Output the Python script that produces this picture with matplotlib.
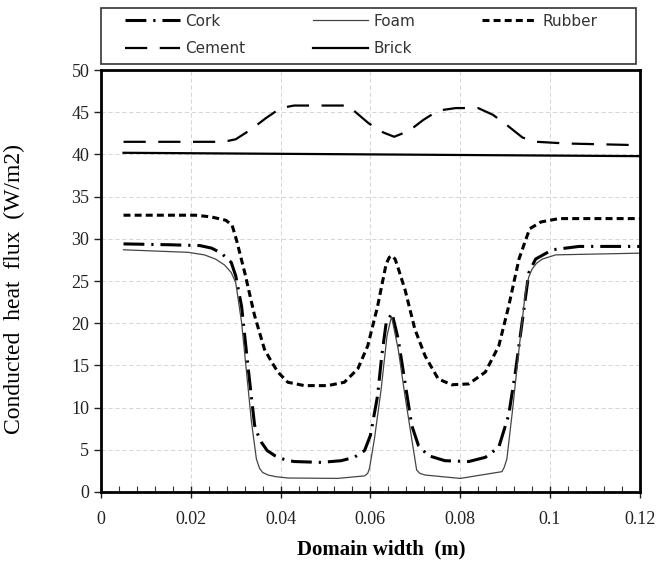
import numpy as np
import matplotlib
matplotlib.use("Agg")
import matplotlib.pyplot as plt
from matplotlib.patches import Rectangle
from matplotlib.ticker import MultipleLocator, FuncFormatter

# ---------- heat flux along the domain width (W/m2) ----------
cork_x = [0.005, 0.015, 0.022, 0.0246, 0.0268, 0.029, 0.030, 0.0313, 0.0327,
          0.0342, 0.035, 0.0357, 0.037, 0.0387, 0.041, 0.043, 0.049, 0.0535,
          0.0564, 0.0587, 0.060, 0.0616, 0.0625, 0.0635, 0.0648, 0.0662,
          0.0677, 0.0692, 0.0707, 0.0729, 0.0766, 0.0819, 0.0856, 0.0886,
          0.0908, 0.0923, 0.0938, 0.0953, 0.0968, 0.1005, 0.1065, 0.12]
cork_y = [29.4, 29.3, 29.2, 28.9, 28.3, 27.2, 25.6, 22.0, 15.0,
          7.9, 6.7, 5.9, 4.9, 4.3, 3.8, 3.6, 3.5, 3.7,
          4.1, 4.9, 6.7, 11.4, 16.0, 20.0, 21.2, 18.1,
          13.0, 7.9, 5.5, 4.3, 3.7, 3.6, 4.1, 5.3,
          9.1, 14.2, 20.1, 26.0, 27.6, 28.7, 29.1, 29.1]

foam_x = [0.005, 0.0194, 0.023, 0.0255, 0.0275, 0.029, 0.030, 0.0313, 0.0324,
          0.0335, 0.0346, 0.0353, 0.036, 0.0372, 0.039, 0.0416, 0.0527,
          0.0587, 0.0594, 0.0598, 0.0609, 0.0624, 0.0637, 0.0647, 0.0662,
          0.0677, 0.0692, 0.0703, 0.071, 0.0722, 0.080, 0.0893, 0.0898,
          0.0904, 0.0916, 0.0931, 0.0946, 0.0953, 0.0960, 0.097, 0.0983,
          0.1013, 0.12]
foam_y = [28.7, 28.4, 28.1, 27.6, 26.9, 26.0, 24.8, 20.1, 14.2,
          8.3, 3.9, 2.8, 2.3, 2.0, 1.8, 1.65, 1.6,
          1.9, 2.2, 2.8, 6.3, 12.2, 18.5, 20.8, 16.9,
          11.4, 6.3, 2.6, 2.2, 2.0, 1.6, 2.4, 2.9,
          3.9, 9.4, 16.9, 24.0, 25.5, 26.4, 27.1, 27.6,
          28.1, 28.3]

rubber_x = [0.005, 0.021, 0.0245, 0.0278, 0.0292, 0.0302, 0.032, 0.0342,
            0.0364, 0.038, 0.0394, 0.0416, 0.0453, 0.0505, 0.0542, 0.0572,
            0.0594, 0.0616, 0.0635, 0.0642, 0.0648, 0.0655, 0.0662, 0.0677,
            0.0699, 0.0722, 0.0751, 0.0781, 0.0819, 0.0856, 0.0886, 0.0908,
            0.0931, 0.0946, 0.0955, 0.098, 0.102, 0.12]
rubber_y = [32.8, 32.8, 32.6, 32.2, 31.6, 29.8, 26.0, 20.9,
            16.9, 15.4, 14.2, 13.0, 12.6, 12.6, 13.0, 14.6,
            17.3, 22.0, 27.0, 27.8, 28.0, 27.6, 26.5, 24.0,
            19.3, 16.1, 13.4, 12.7, 12.8, 14.2, 17.3, 22.0,
            27.6, 29.9, 31.2, 32.0, 32.4, 32.4]

cement_x = [0.005, 0.0273, 0.030, 0.0335, 0.0367, 0.040, 0.043, 0.055, 0.0563,
            0.0596, 0.0629, 0.0653, 0.0686, 0.0718, 0.0751, 0.079, 0.084,
            0.0873, 0.0906, 0.0939, 0.0971, 0.1037, 0.12]
cement_y = [41.5, 41.5, 41.8, 43.0, 44.3, 45.5, 45.8, 45.8, 45.2,
            43.7, 42.6, 42.1, 42.8, 44.1, 45.2, 45.5, 45.5,
            44.7, 43.4, 42.0, 41.5, 41.3, 41.1]

brick_x = [0.005, 0.12]
brick_y = [40.2, 39.8]

x_ticks = [0, 0.02, 0.04, 0.06, 0.08, 0.1, 0.12]
y_ticks = [0, 5, 10, 15, 20, 25, 30, 35, 40, 45, 50]

plt.rcParams['lines.scale_dashes'] = False
plt.rcParams['lines.solid_joinstyle'] = 'round'
plt.rcParams['lines.dash_joinstyle'] = 'round'

fig = plt.figure(figsize=(6.65, 5.7), dpi=100)
ax = fig.add_axes([0.152, 0.137, 0.810, 0.740])

h_cork, = ax.plot(cork_x, cork_y, color='black', lw=2.2,
                  dashes=(15, 5, 1.6, 5), label='Cork')
h_foam, = ax.plot(foam_x, foam_y, color='#444444', lw=0.9, label='Foam')
h_rub, = ax.plot(rubber_x, rubber_y, color='black', lw=2.2,
                 dashes=(5, 3), label='Rubber')
h_cem, = ax.plot(cement_x, cement_y, color='black', lw=1.6,
                 dashes=(16, 9), label='Cement')
h_brick, = ax.plot(brick_x, brick_y, color='black', lw=1.6, label='Brick')

ax.set_xlim(0, 0.12)
ax.set_ylim(0, 50)
ax.set_xticks(x_ticks)
ax.set_yticks(y_ticks)
ax.xaxis.set_minor_locator(MultipleLocator(0.004))
ax.xaxis.set_major_formatter(FuncFormatter(lambda v, p: '%g' % round(v, 4)))

ax.grid(True, which='major', color='#d4d4d4', linestyle=(0, (3, 2)), lw=0.7)
ax.set_axisbelow(True)

for s in ax.spines.values():
    s.set_linewidth(2.0)
    s.set_color('black')

serif = 'Liberation Serif'
ax.tick_params(axis='y', which='major', direction='out', length=5, width=1,
               labelsize=13, colors='#222222')
ax.tick_params(axis='x', which='major', direction='inout', length=9, width=1,
               labelsize=13, colors='#222222', pad=9)
ax.tick_params(axis='x', which='minor', direction='in', length=4, width=0.8,
               colors='#333333')
for lab in ax.get_xticklabels() + ax.get_yticklabels():
    lab.set_family(serif)
    lab.set_color('#222222')

ax.set_xlabel('Domain width  (m)', family=serif, fontweight='bold',
              fontsize=15)
ax.xaxis.set_label_coords(0.52, -0.112)
ax.set_ylabel('Conducted  heat  flux  (W/m2)', family=serif, fontsize=17)
ax.yaxis.set_label_coords(-0.141, 0.48)

# legend laid out row by row: Cork Foam Rubber / Cement Brick
handles = [h_cork, h_cem, h_foam, h_brick, h_rub]
labels = [h.get_label() for h in handles]
leg = fig.legend(handles, labels, ncol=3, loc='upper left',
                 bbox_to_anchor=(0.188, 0.976), frameon=False,
                 handlelength=3.6, handletextpad=0.35, columnspacing=4.4,
                 labelspacing=0.8, borderpad=0, borderaxespad=0,
                 prop={'family': 'DejaVu Sans', 'size': 11})
for t in leg.get_texts():
    t.set_color('#333333')
fig.patches.append(Rectangle((0.152, 0.8877), 0.8045, 0.0982,
                             transform=fig.transFigure, fill=False,
                             edgecolor='#333333', lw=1.2))

fig.savefig('out.png', dpi=100)
